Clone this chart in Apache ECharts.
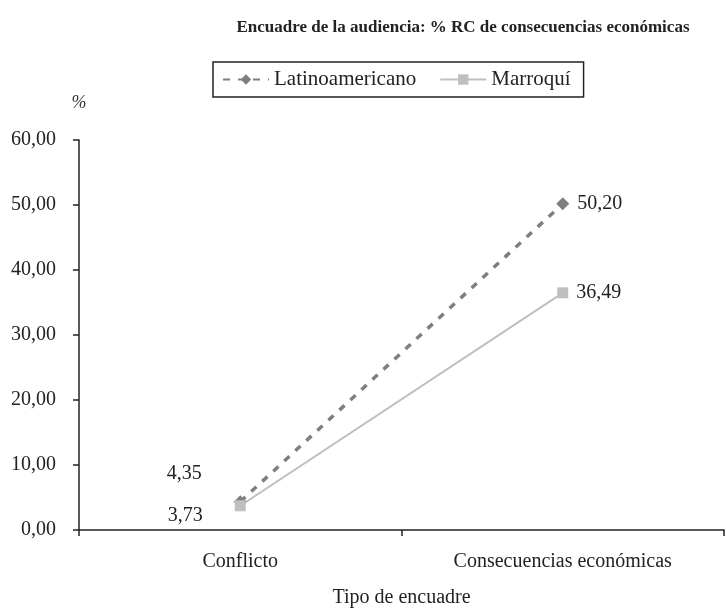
<!DOCTYPE html>
<html><head><meta charset="utf-8">
<script src="https://cdn.jsdelivr.net/npm/echarts@6/dist/echarts.min.js"></script>
<style>html,body{margin:0;padding:0;background:#fff}#c{width:726px;height:611px}</style>
</head><body><div id="c"></div>
<script>
const categories = ['Conflicto', 'Consecuencias económicas'];
const latino = [4.35, 50.20];
const marroqui = [3.73, 36.49];
const yTicks = [0, 10, 20, 30, 40, 50, 60];

const F = '"Liberation Serif", "DejaVu Serif", serif';
const fmt = v => v.toFixed(2).replace('.', ',');
const chart = echarts.init(document.getElementById('c'));
chart.setOption({
  backgroundColor: '#fff',
  animation: false,
  textStyle: { fontFamily: F },
  title: {
    text: 'Encuadre de la audiencia: % RC de consecuencias económicas',
    left: 458, top: 14, textAlign: 'center',
    textStyle: { fontFamily: F, fontSize: 17, fontWeight: 'bold', color: '#222' }
  },
  legend: {
    left: 213, top: 62,
    padding: [7, 13, 7, 9],
    borderColor: '#222', borderWidth: 1.5,
    itemWidth: 46, itemHeight: 13, itemGap: 23,
    textStyle: { fontFamily: F, fontSize: 21, color: '#222' },
    data: ['Latinoamericano', 'Marroquí']
  },
  grid: { left: 79, right: 2, top: 140, bottom: 81, containLabel: false, outerBoundsMode: 'none' },
  xAxis: {
    type: 'category', data: categories, boundaryGap: true,
    name: 'Tipo de encuadre', nameLocation: 'middle', nameGap: 58,
    nameTextStyle: { fontFamily: F, fontSize: 20, color: '#222' },
    axisLine: { lineStyle: { color: '#222', width: 1.5 } },
    axisTick: { show: true, length: 6, lineStyle: { color: '#222', width: 1.5 } },
    axisLabel: { fontFamily: F, fontSize: 20, color: '#222', margin: 22 }
  },
  yAxis: {
    type: 'value', min: 0, max: 60, interval: 10,
    name: '%', nameLocation: 'end', nameGap: 28,
    nameTextStyle: { fontFamily: F, fontSize: 18, color: '#333', fontStyle: 'italic', align: 'center' },
    axisLine: { show: true, lineStyle: { color: '#222', width: 1.5 } },
    axisTick: { show: true, length: 6, lineStyle: { color: '#222', width: 1.5 } },
    splitLine: { show: false },
    axisLabel: { fontFamily: F, fontSize: 20, color: '#222', margin: 23, formatter: v => fmt(v) }
  },
  series: [
    {
      name: 'Latinoamericano', type: 'line', data: latino.map((v, i) => ({
        value: v,
        label: i === 0 ? { position: 'left', offset: [-24, -28] } : { position: 'right' }
      })),
      symbol: 'diamond', symbolSize: 13,
      lineStyle: { color: '#7f7f7f', width: 3.5, type: [7, 8] },
      itemStyle: { color: '#7f7f7f' },
      label: { show: true, fontFamily: F, fontSize: 20, color: '#222', distance: 8, formatter: p => fmt(p.value) }
    },
    {
      name: 'Marroquí', type: 'line', data: marroqui.map((v, i) => ({
        value: v,
        label: i === 0 ? { position: 'left', offset: [-24, 10] } : { position: 'right' }
      })),
      symbol: 'rect', symbolSize: 11,
      lineStyle: { color: '#bfbfbf', width: 2 },
      itemStyle: { color: '#bfbfbf' },
      label: { show: true, fontFamily: F, fontSize: 20, color: '#222', distance: 8, formatter: p => fmt(p.value) }
    }
  ]
});
</script></body></html>
